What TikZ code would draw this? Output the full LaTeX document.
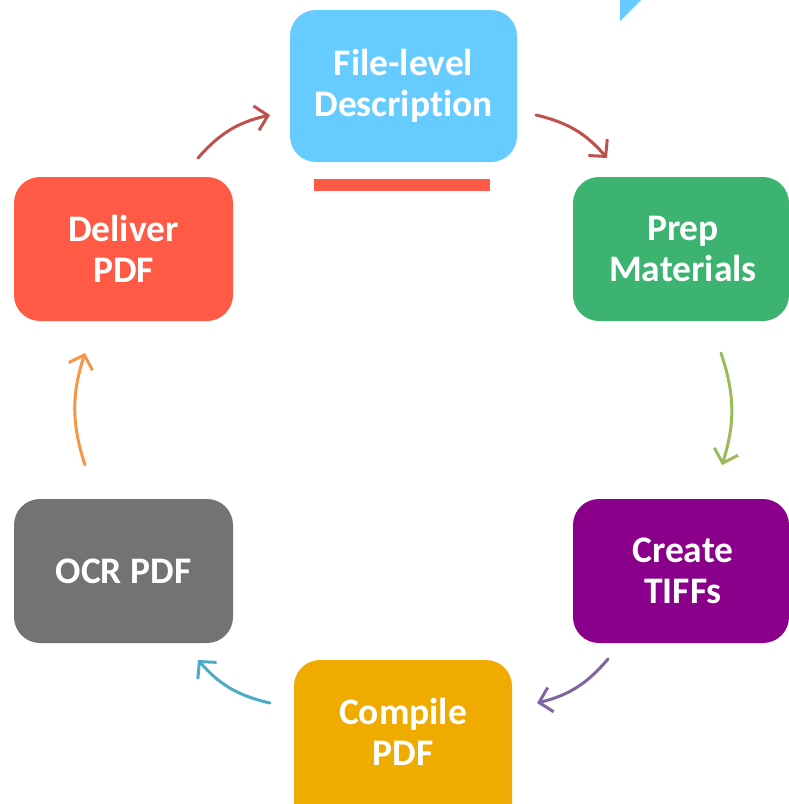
\documentclass[tikz,border=0pt]{standalone}
\usepackage{fontspec}
\setmainfont[Ligatures=NoCommon]{Carlito}
\usetikzlibrary{arrows.meta}
\definecolor{cblue}{HTML}{66CCFF}
\definecolor{cgreen}{HTML}{3CB371}
\definecolor{cpurple}{HTML}{8B008B}
\definecolor{corange}{HTML}{F0AB00}
\definecolor{cgray}{HTML}{737373}
\definecolor{cred}{HTML}{FF5A45}
\definecolor{aredb}{HTML}{C0504D}
\definecolor{agreen}{HTML}{9BBB59}
\definecolor{apurple}{HTML}{8064A2}
\definecolor{ateal}{HTML}{4BACC6}
\definecolor{aorange}{HTML}{F79646}
\tikzset{
  stepbox/.style={text=white, align=center,
    font=\fontsize{37.5}{41}\selectfont\bfseries, inner sep=0pt},
  boxfill/.style={rounded corners=26pt},
  flow/.style={line width=3pt, line cap=round, bend left=18,
    -{Straight Barb[length=12pt,width=25pt,line width=3pt]}},
}
\begin{document}
\begin{tikzpicture}[x=1pt,y=-1pt]
\useasboundingbox (0,0) rectangle (788,804);
% top-right triangle
\fill[cblue] (620,0) -- (641,0) -- (620,21) -- cycle;
% boxes
\fill[cblue,boxfill] (290,10) rectangle (517,162);
\node[stepbox] (file) at (403.5,86) {File-level\\Description};
\fill[cgreen,boxfill] (573,177) rectangle (789,321);
\node[stepbox] (prep) at (683,249) {Prep\\Materials};
\fill[cpurple,boxfill] (573,499) rectangle (789,643);
\node[stepbox] (tiff) at (683,571) {Create\\TIFFs};
\fill[corange,boxfill] (294,660) rectangle (512,830);
\node[stepbox] (comp) at (403,732) {Compile\\PDF};
\fill[cgray,boxfill] (14,499) rectangle (233,643);
\node[stepbox] (ocr) at (123.5,571) {OCR PDF};
\fill[cred,boxfill] (14,177) rectangle (233,321);
\node[stepbox] (deliv) at (123.5,249) {Deliver\\PDF};
% red bar
\fill[cred] (314,179) rectangle (490,191);
% arrow end points
\coordinate (a1s) at (198,158); \coordinate (a1e) at (270,115);
\coordinate (a2s) at (536,115); \coordinate (a2e) at (607,158);
\coordinate (a3s) at (721,353); \coordinate (a3e) at (722,465);
\coordinate (a4s) at (608,659); \coordinate (a4e) at (537,703);
\coordinate (a5s) at (270,703); \coordinate (a5e) at (198,660);
\coordinate (a6s) at (85,465);  \coordinate (a6e) at (85,353);
\draw[flow,aredb] (a1s) to (a1e);
\draw[flow,aredb] (a2s) to (a2e);
\draw[flow,agreen] (a3s) to (a3e);
\draw[flow,apurple] (a4s) to (a4e);
\draw[flow,ateal] (a5s) to (a5e);
\draw[flow,aorange] (a6s) to (a6e);
\end{tikzpicture}
\end{document}
